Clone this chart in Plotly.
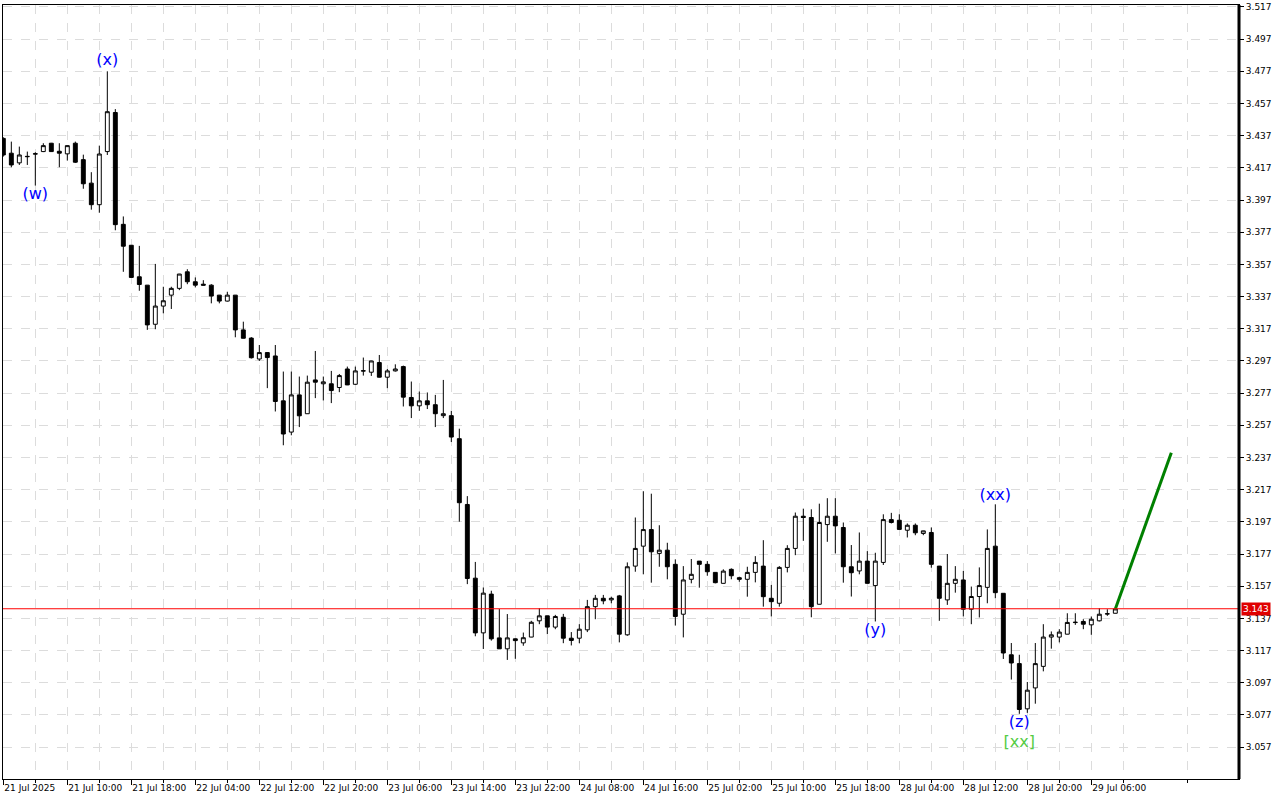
import plotly.graph_objects as go

# ---- data (hourly bars, index = bar number) ----
opens = [3.4353,3.4261,3.4201,3.4239,3.4255,3.4271,3.4323,3.4273,3.4257,3.4323,
         3.4221,3.4075,3.3941,3.4271,3.4514,3.3819,3.3689,3.3493,3.3441,3.3198,
         3.3311,3.3379,3.3421,3.3524,3.3462,3.3447,3.3441,3.3379,3.3342,3.3379,
         3.3163,3.3112,3.2982,3.3022,3.3001,3.2722,3.2528,3.2759,3.2642,3.2852,
         3.2828,3.2828,3.2805,3.2920,3.2825,3.2907,3.2900,3.2960,3.2869,3.2908,
         3.2935,3.2743,3.2691,3.2722,3.2698,3.2630,3.2630,3.2487,3.2078,3.1620,
         3.1280,3.1521,3.1249,3.1181,3.1243,3.1218,3.1254,3.1355,3.1386,3.1316,
         3.1377,3.1247,3.1247,3.1299,3.1443,3.1495,3.1485,3.1510,3.1268,3.1695,
         3.1819,3.1922,3.1774,3.1794,3.1706,3.1396,3.1613,3.1726,3.1706,3.1656,
         3.1588,3.1675,3.1623,3.1613,3.1656,3.1695,3.1495,3.1464,3.1687,3.1805,
         3.2005,3.1997,3.1458,3.1953,3.2005,3.1935,3.1691,3.1665,3.1726,3.1574,
         3.1718,3.1984,3.1980,3.1918,3.1949,3.1898,3.1904,3.1695,3.1485,3.1588,
         3.1609,3.1427,3.1506,3.1563,3.1819,3.1526,3.1144,3.1089,3.0808,3.0938,
         3.1072,3.1254,3.1254,3.1272,3.1344,3.1351,3.1330,3.1355,3.1397,3.1402]
highs = [3.4360,3.4333,3.4302,3.4271,3.4267,3.4323,3.4325,3.4323,3.4310,3.4333,
         3.4252,3.4143,3.4308,3.4770,3.4535,3.3868,3.3690,3.3685,3.3442,3.3573,
         3.3431,3.3431,3.3511,3.3540,3.3489,3.3472,3.3447,3.3380,3.3400,3.3380,
         3.3214,3.3118,3.3069,3.3025,3.3069,3.2904,3.2904,3.2873,3.2879,3.3032,
         3.2873,3.2908,3.2889,3.2935,3.2935,3.2991,3.2971,3.3007,3.2920,3.2949,
         3.2941,3.2842,3.2780,3.2774,3.2759,3.2852,3.2660,3.2549,3.2130,3.1721,
         3.1562,3.1542,3.1428,3.1397,3.1245,3.1282,3.1355,3.1433,3.1387,3.1392,
         3.1398,3.1285,3.1334,3.1485,3.1516,3.1516,3.1505,3.1516,3.1718,3.1997,
         3.2160,3.2145,3.1949,3.1840,3.1737,3.1695,3.1739,3.1727,3.1726,3.1657,
         3.1675,3.1681,3.1629,3.1691,3.1757,3.1856,3.1578,3.1695,3.1825,3.2028,
         3.2052,3.2048,3.2083,3.2117,3.2117,3.1966,3.1826,3.1904,3.1788,3.1778,
         3.2017,3.2026,3.2017,3.1960,3.1960,3.1915,3.1935,3.1696,3.1770,3.1695,
         3.1665,3.1568,3.1687,3.1923,3.2079,3.1527,3.1217,3.1144,3.0975,3.1217,
         3.1334,3.1289,3.1303,3.1402,3.1402,3.1365,3.1382,3.1433,3.1427,3.1433]
lows = [3.4240,3.4174,3.4188,3.4188,3.4060,3.4268,3.4269,3.4174,3.4215,3.4200,
        3.4040,3.3910,3.3891,3.4250,3.3782,3.3524,3.3488,3.3406,3.3163,3.3167,
        3.3266,3.3293,3.3410,3.3447,3.3427,3.3440,3.3328,3.3328,3.3340,3.3117,
        3.3110,3.2985,3.2970,3.2801,3.2656,3.2446,3.2508,3.2559,3.2641,3.2739,
        3.2724,3.2708,3.2776,3.2820,3.2821,3.2879,3.2877,3.2867,3.2801,3.2904,
        3.2687,3.2615,3.2660,3.2671,3.2559,3.2615,3.2466,3.1971,3.1583,3.1259,
        3.1180,3.1232,3.1180,3.1112,3.1119,3.1200,3.1253,3.1334,3.1272,3.1303,
        3.1216,3.1202,3.1216,3.1285,3.1365,3.1458,3.1464,3.1221,3.1262,3.1660,
        3.1644,3.1592,3.1691,3.1613,3.1326,3.1252,3.1588,3.1561,3.1635,3.1588,
        3.1587,3.1613,3.1598,3.1505,3.1594,3.1443,3.1382,3.1443,3.1656,3.1763,
        3.1852,3.1377,3.1457,3.1846,3.1774,3.1592,3.1506,3.1644,3.1587,3.1351,
        3.1702,3.1960,3.1922,3.1873,3.1887,3.1887,3.1685,3.1355,3.1454,3.1530,
        3.1382,3.1334,3.1376,3.1464,3.1495,3.1118,3.0990,3.0777,3.0783,3.0840,
        3.1041,3.1182,3.1221,3.1271,3.1330,3.1303,3.1268,3.1351,3.1386,3.1401]
closes = [3.4250,3.4188,3.4250,3.4241,3.4258,3.4308,3.4271,3.4261,3.4308,3.4205,
          3.4071,3.3941,3.4256,3.4519,3.3817,3.3683,3.3489,3.3445,3.3194,3.3311,
          3.3344,3.3421,3.3510,3.3462,3.3441,3.3441,3.3373,3.3342,3.3379,3.3163,
          3.3111,3.2990,3.3022,3.2991,3.2718,3.2516,3.2759,3.2629,3.2838,3.2838,
          3.2840,3.2786,3.2879,3.2821,3.2908,3.2909,3.2970,3.2869,3.2908,3.2920,
          3.2745,3.2691,3.2722,3.2698,3.2642,3.2642,3.2497,3.2089,3.1618,3.1280,
          3.1527,3.1243,3.1181,3.1249,3.1232,3.1250,3.1346,3.1386,3.1316,3.1382,
          3.1247,3.1233,3.1303,3.1443,3.1495,3.1479,3.1495,3.1272,3.1691,3.1805,
          3.1922,3.1784,3.1794,3.1691,3.1382,3.1609,3.1644,3.1706,3.1660,3.1592,
          3.1664,3.1635,3.1613,3.1656,3.1718,3.1505,3.1474,3.1687,3.1805,3.2005,
          3.1997,3.1443,3.1966,3.2005,3.1945,3.1691,3.1654,3.1726,3.1588,3.1726,
          3.1984,3.1966,3.1923,3.1949,3.1902,3.1914,3.1706,3.1495,3.1588,3.1613,
          3.1427,3.1506,3.1574,3.1805,3.1530,3.1155,3.1093,3.0804,3.0924,3.1089,
          3.1254,3.1268,3.1285,3.1345,3.1346,3.1334,3.1365,3.1396,3.1399,3.1429]

tick_bars = [0, 8, 16, 24, 32, 40, 48, 56, 64, 72, 80, 88, 96, 104, 112, 120, 128, 136]
tick_labels = ["21 Jul 2025", "21 Jul 10:00", "21 Jul 18:00", "22 Jul 04:00", "22 Jul 12:00",
               "22 Jul 20:00", "23 Jul 06:00", "23 Jul 14:00", "23 Jul 22:00", "24 Jul 08:00",
               "24 Jul 16:00", "25 Jul 02:00", "25 Jul 10:00", "25 Jul 18:00", "28 Jul 04:00",
               "28 Jul 12:00", "28 Jul 20:00", "29 Jul 06:00"]
minor_bars = [4, 12, 20, 28, 36, 44, 52, 60, 68, 76, 84, 92, 100, 108, 116, 124, 132, 140, 148]
price_ticks = [3.057, 3.077, 3.097, 3.117, 3.137, 3.157, 3.177, 3.197, 3.217, 3.237, 3.257,
               3.277, 3.297, 3.317, 3.337, 3.357, 3.377, 3.397, 3.417, 3.437, 3.457, 3.477,
               3.497, 3.517]

current_price = 3.143

wave_labels = ["(w)", "(x)", "(y)", "(xx)", "(z)"]
wave_bars = [4, 13, 109, 124, 127]
wave_prices = [3.400, 3.4836, 3.1289, 3.2131, 3.0720]
degree_label = "[xx]"
degree_bar = 127
degree_price = 3.0597

forecast_bars = [139, 146]
forecast_prices = [3.1429, 3.2400]

bars = list(range(len(opens)))

fig = go.Figure()
fig.add_trace(go.Candlestick(
    x=bars, open=opens, high=highs, low=lows, close=closes,
    increasing=dict(fillcolor="white", line=dict(color="black", width=1)),
    decreasing=dict(fillcolor="black", line=dict(color="black", width=1)),
    whiskerwidth=0, showlegend=False, hoverinfo="skip"))

fig.add_trace(go.Scatter(x=forecast_bars, y=forecast_prices, mode="lines",
                         line=dict(color="#008000", width=3), showlegend=False,
                         hoverinfo="skip"))

fig.add_trace(go.Scatter(x=wave_bars, y=wave_prices, mode="text", text=wave_labels,
                         textfont=dict(family="DejaVu Sans", size=16, color="#0000ff"),
                         showlegend=False, hoverinfo="skip"))
fig.add_trace(go.Scatter(x=[degree_bar], y=[degree_price], mode="text", text=[degree_label],
                         textfont=dict(family="DejaVu Sans", size=16, color="#55cc44"),
                         showlegend=False, hoverinfo="skip"))

# current price line
fig.add_hline(y=current_price, line=dict(color="#ff0000", width=1))
fig.add_annotation(x=1, xref="paper", y=current_price, yref="y", xanchor="left",
                   text="3.143", showarrow=False, bgcolor="#e00000",
                   font=dict(family="DejaVu Sans", size=9, color="white"),
                   borderpad=1, xshift=2)

# thick right border
fig.add_shape(type="line", xref="paper", yref="paper", x0=1, x1=1, y0=0, y1=1,
              line=dict(color="black", width=3))

axis_font = dict(family="DejaVu Sans", size=9, color="black")

fig.update_layout(
    width=1280, height=800,
    paper_bgcolor="white", plot_bgcolor="white",
    margin=dict(l=2, r=41, t=2, b=21),
    showlegend=False,
    xaxis=dict(
        range=[-0.04, 154.46], rangeslider=dict(visible=False),
        tickmode="array", tickvals=tick_bars, ticktext=tick_labels,
        ticklabelposition="outside right", ticks="outside", ticklen=5,
        tickcolor="black", tickfont=axis_font,
        showgrid=True, gridcolor="#dcdcdc", griddash="dash", gridwidth=1,
        minor=dict(tickmode="array", tickvals=minor_bars, ticks="outside", ticklen=3,
                   tickcolor="black", showgrid=True, gridcolor="#dcdcdc", griddash="dash"),
        showline=True, linecolor="black", linewidth=1, mirror=True,
        zeroline=False, fixedrange=True),
    yaxis=dict(
        side="right", range=[3.0372, 3.5182],
        tickmode="array", tickvals=price_ticks, ticktext=[f"{v:.3f}" for v in price_ticks],
        ticks="outside", ticklen=4, tickcolor="black", tickfont=axis_font,
        ticklabeloverflow="allow",
        showgrid=True, gridcolor="#dcdcdc", griddash="dash", gridwidth=1,
        showline=True, linecolor="black", linewidth=1, mirror=True,
        zeroline=False, fixedrange=True),
)

fig.write_html("out.html", config={"displayModeBar": False},
               post_script="document.body.style.margin='0';document.body.style.overflow='hidden';")
